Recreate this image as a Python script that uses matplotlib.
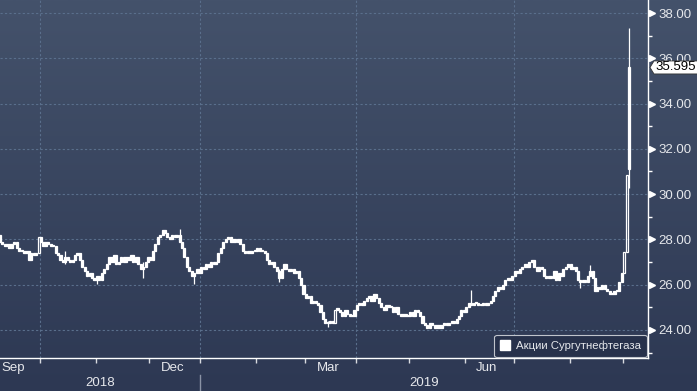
import numpy as np
import pandas as pd
import matplotlib
matplotlib.use("Agg")
import matplotlib.pyplot as plt
from matplotlib.patches import Polygon, Rectangle
from matplotlib.colors import LinearSegmentedColormap
from matplotlib.lines import Line2D
from matplotlib import transforms

# ---------------- data ----------------
closes = [
    27.9, 27.8, 27.7, 27.8, 27.6,
    27.8, 27.9, 27.6, 27.5, 27.5,
    27.4, 27.5, 27.1, 27.4, 27.3,
    27.4, 28.1, 27.9, 27.7, 27.9,
    27.8, 27.7, 27.7, 27.4, 27.3,
    27.1, 27.0, 27.2, 27.1, 27.0,
    27.1, 27.3, 27.4, 27.1, 26.8,
    26.6, 26.4, 26.5, 26.3, 26.2,
    26.4, 26.2, 26.5, 26.7, 26.9,
    27.2, 27.0, 27.3, 26.9, 27.0,
    27.2, 27.0, 27.2, 27.1, 27.3,
    27.0, 27.2, 26.9, 26.7, 26.8,
    27.0, 27.2, 27.1, 27.5, 27.8,
    28.1, 28.2, 28.4, 28.3, 28.1,
    28.0, 28.2, 28.1, 28.2, 27.9,
    27.6, 27.2, 26.8, 26.6, 26.4,
    26.5, 26.7, 26.5, 26.8, 26.7,
    26.9, 26.8, 27.0, 26.9, 27.0,
    27.4, 27.6, 27.9, 28.0, 28.1,
    27.9, 28.0, 27.9, 28.0, 27.8,
    27.5, 27.4, 27.5, 27.4, 27.5,
    27.5, 27.6, 27.5, 27.5, 27.4,
    27.1, 26.9, 27.0, 26.8, 26.6,
    26.3, 26.7, 26.9, 26.7, 26.6,
    26.7, 26.5, 26.6, 26.3, 26.0,
    25.6, 25.4, 25.5, 25.2, 25.3,
    25.2, 25.1, 24.8, 24.5, 24.3,
    24.3, 24.4, 24.3, 24.9, 24.9,
    24.8, 24.6, 24.9, 24.7, 24.6,
    24.6, 24.9, 25.1, 25.2, 25.1,
    25.3, 25.4, 25.5, 25.3, 25.6,
    25.4, 25.2, 25.0, 24.9, 25.1,
    25.0, 25.0, 24.8, 25.0, 24.7,
    24.6, 24.7, 24.6, 24.6, 24.8,
    24.6, 24.9, 24.8, 24.6, 24.3,
    24.2, 24.1, 24.3, 24.2, 24.1,
    24.2, 24.1, 24.2, 24.3, 24.2,
    24.3, 24.4, 24.3, 24.5, 24.6,
    24.9, 24.8, 25.0, 25.2, 25.1,
    25.2, 25.2, 25.1, 25.1, 25.2,
    25.1, 25.2, 25.3, 25.5, 25.7,
    25.9, 25.8, 26.0, 26.2, 26.3,
    26.2, 26.4, 26.6, 26.5, 26.7,
    26.8, 26.9, 26.8, 27.0, 27.1,
    26.8, 26.6, 26.8, 26.7, 26.4,
    26.3, 26.4, 26.3, 26.6, 26.2,
    26.5, 26.4, 26.7, 26.8, 26.9,
    26.7, 26.8, 26.6, 26.2, 26.1,
    26.2, 26.1, 26.4, 26.6, 26.3,
    25.7, 25.9, 25.8, 26.0, 25.8,
    25.7, 25.6, 25.6, 25.7, 25.7,
    26.1, 26.5, 27.45, 30.85, 35.595,
]
first_open = 28.2
open_fix_idx = [259]
open_fix_val = [31.1]

wick_idx = [27, 40, 59, 74, 80, 115, 135, 194, 239, 243, 259]
wick_hi = [27.5, 26.4, 27.0, 28.45, 26.5, 26.7, 24.4, 25.75, 26.2, 26.85, 37.34]
wick_lo = [26.9, 26.05, 26.3, 28.1, 26.03, 26.1, 24.15, 25.1, 25.85, 26.5, 30.26]

start_date = "2018-09-06"
y_ticks = [24, 26, 28, 30, 32, 34, 36, 38]
y_minor = [23, 25, 27, 29, 31, 33, 35, 37]
month_labels = ["Sep", "Dec", "Mar", "Jun"]
label_months = ["2018-09", "2018-12", "2019-03", "2019-06"]
tick_months = ["2018-10", "2018-11", "2018-12", "2019-01", "2019-02", "2019-03",
               "2019-04", "2019-05", "2019-06", "2019-07", "2019-08", "2019-09"]
grid_months = ["2018-10", "2019-01", "2019-04", "2019-07"]
year_labels = ["2018", "2019"]
series_name = "Акции Сургутнефтегаза"
last_label = "35.595"

# ---------------- layout ----------------
W, H = 697, 391
FONT = ["Liberation Sans", "DejaVu Sans"]
plt.rcParams["font.family"] = FONT
TXT = "#e6e8ec"

fig = plt.figure(figsize=(W / 100, H / 100), dpi=100)

# background gradient
bg = fig.add_axes([0, 0, 1, 1], zorder=0)
cmap = LinearSegmentedColormap.from_list("bg", ["#2d3853", "#44526b"])
grad = np.linspace(0, 1, 256).reshape(-1, 1)
bg.imshow(grad, aspect="auto", cmap=cmap, origin="lower", extent=[0, 1, 0, 1])
bg.set_axis_off()

ax_bottom_px = H - 358
ax = fig.add_axes([0, ax_bottom_px / H, 648 / W, 1 - ax_bottom_px / H], zorder=1)
ax.patch.set_alpha(0)

n = len(closes)
idx = np.arange(n)
opens = [first_open] + closes[:-1]
for k, v in zip(open_fix_idx, open_fix_val):
    opens[k] = v
opens = np.array(opens)
cl = np.array(closes)

all_days = pd.bdate_range("2018-09-03", "2019-10-31")
off = all_days.get_loc(pd.Timestamp(start_date))


def month_start_pos(m):
    p = pd.Period(m, "M")
    first = all_days[(all_days >= p.start_time)][0]
    return all_days.get_loc(first) - off


# grid
for g in y_ticks:
    ax.axhline(g, color="#5a6f8c", lw=0.8, ls=(0, (2, 2)), zorder=1)
for m in grid_months:
    ax.axvline(month_start_pos(m) - 0.5, color="#5a6f8c", lw=0.8, ls=(0, (2, 2)), zorder=1)

# wicks
for k, hi, lo in zip(wick_idx, wick_hi, wick_lo):
    ax.plot([k, k], [lo, hi], color="white", lw=0.9, zorder=3, solid_capstyle="butt")

# candles
bw = 0.85
for i in idx:
    o, c = opens[i], cl[i]
    lo, hi = min(o, c), max(o, c)
    h = max(hi - lo, 0.05)
    up = c >= o
    rect = Rectangle((i - bw / 2, lo), bw, h,
                     facecolor="none" if (up and h > 0.5) else "white",
                     edgecolor="white", lw=0.9, zorder=4)
    ax.add_patch(rect)

ax.set_xlim(0.1, 266.8)
ax.set_ylim(22.76, 38.575)

for s in ["top", "left"]:
    ax.spines[s].set_visible(False)
for s in ["right", "bottom"]:
    ax.spines[s].set_color("white")
    ax.spines[s].set_linewidth(1.0)

# y axis on right
ax.yaxis.tick_right()
ax.set_yticks(y_ticks)
ax.set_yticklabels([f"{v:.2f}" for v in y_ticks])
ax.set_yticks(y_minor, minor=True)
ax.tick_params(axis="y", which="major", length=0, pad=7.5, labelsize=9.5, labelcolor=TXT)
ax.tick_params(axis="y", which="minor", length=2.6, width=1, color="white")
tri_tr = transforms.blended_transform_factory(ax.transAxes, ax.transData) + \
    transforms.ScaledTranslation(4 / 100, 0, fig.dpi_scale_trans)
ax.plot([1.0] * len(y_ticks), y_ticks, ls="none", marker=">", ms=4.5, color="white",
        transform=tri_tr, clip_on=False, zorder=5)

# x axis
ax.set_xticks([month_start_pos(m) - 0.5 for m in tick_months])
ax.set_xticklabels([])
ax.tick_params(axis="x", which="major", length=3.5, width=1, color="#d8dbe0", direction="out")

label_tr = transforms.blended_transform_factory(ax.transData, fig.transFigure)
for name, m in zip(month_labels, label_months):
    p = pd.Period(m, "M")
    a = month_start_pos(m)
    b = month_start_pos(str(p + 1))
    ax.text((a + b) / 2 - 1.5, (H - 368) / H, name, transform=label_tr, ha="center", va="center",
            fontsize=9.5, color=TXT, clip_on=False)

jan = month_start_pos("2019-01") - 0.5
xmin, xmax = ax.get_xlim()
ax.text((xmin + jan) / 2, (H - 383) / H, year_labels[0], transform=label_tr, ha="center",
        va="center", fontsize=9.5, color=TXT, clip_on=False)
ax.text((jan + xmax) / 2, (H - 383) / H, year_labels[1], transform=label_tr, ha="center",
        va="center", fontsize=9.5, color=TXT, clip_on=False)
sep = Line2D([jan, jan], [0, (H - 375) / H], color="#8a93a5", lw=1, transform=label_tr)
fig.add_artist(sep)

# legend
handle = Line2D([], [], ls="none", marker="s", ms=7.5, color="white")
leg = ax.legend([handle], [series_name], loc="lower right", bbox_to_anchor=(0.998, 0.003),
                borderaxespad=0, frameon=True, fancybox=True, facecolor="#27314b",
                edgecolor="#c0c4cc", fontsize=8.2, labelcolor=TXT, handlelength=0.9,
                handletextpad=0.5, borderpad=0.5, framealpha=1)
leg.get_frame().set_linewidth(0.8)
leg.set_zorder(6)

# last price label
fig.canvas.draw()
ypix = ax.transData.transform((0, float(last_label)))[1]
x0 = 650
pts = [(x0, ypix), (x0 + 4, ypix + 6.5), (W + 2, ypix + 6.5), (W + 2, ypix - 6.5), (x0 + 4, ypix - 6.5)]
pts_fig = [(px / W, py / H) for px, py in pts]
fig.add_artist(Polygon(pts_fig, closed=True, facecolor="white", edgecolor="#333333", lw=0.6,
                       transform=fig.transFigure, zorder=10))
fig.text((x0 + 5) / W, ypix / H, last_label, ha="left", va="center", fontsize=9.5,
         color="black", zorder=11)

fig.savefig("out.png", dpi=100)
